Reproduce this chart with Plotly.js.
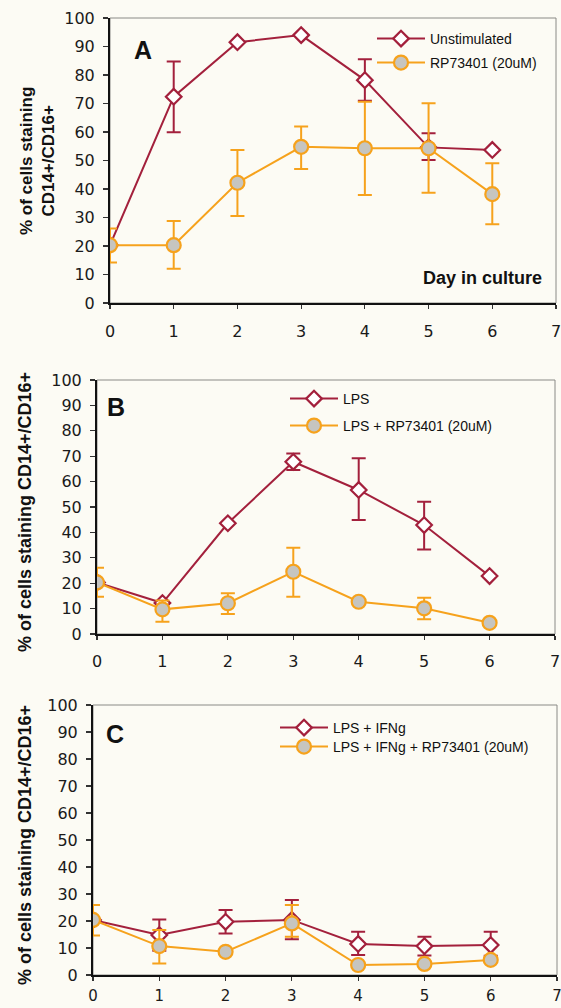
<!DOCTYPE html>
<html><head><meta charset="utf-8">
<script src="https://cdn.plot.ly/plotly-3.0.1.min.js"></script>
<style>html,body{margin:0;padding:0;background:#fcfbf4}</style>
</head><body><div id="chart" style="width:561px;height:1008px"></div>
<script>
// ---------- data ----------
var days = [0, 1, 2, 3, 4, 5, 6];
var xTicks = [0, 1, 2, 3, 4, 5, 6, 7];
var yTicks = [0, 10, 20, 30, 40, 50, 60, 70, 80, 90, 100];

// Panel A
var aUnstim      = [20.3, 72.4, 91.5, 94.0, 78.2, 54.6, 53.7];
var aUnstimPlus  = [0, 12.3, 0, 0, 7.3, 5.0, 0];
var aUnstimMinus = [0, 12.5, 0, 0, 7.2, 4.4, 0];
var aRp          = [20.3, 20.3, 42.2, 54.8, 54.3, 54.3, 38.2];
var aRpPlus      = [5.8, 8.5, 11.5, 7.1, 16.3, 15.8, 10.8];
var aRpMinus     = [6.1, 8.3, 11.7, 7.8, 16.4, 15.6, 10.6];

// Panel B
var bLps         = [20.3, 12.2, 43.6, 67.8, 56.7, 42.9, 22.8];
var bLpsPlus     = [0, 0, 0, 3.3, 12.5, 9.2, 0];
var bLpsMinus    = [0, 0, 0, 3.2, 11.8, 9.6, 0];
var bRp          = [20.3, 9.7, 12.1, 24.5, 12.7, 10.1, 4.4];
var bRpPlus      = [5.8, 3.5, 3.9, 9.5, 0, 4.2, 0];
var bRpMinus     = [5.6, 4.9, 4.2, 9.8, 0, 4.3, 0];

// Panel C
var cIfn         = [20.4, 14.8, 19.7, 20.4, 11.5, 10.7, 11.1];
var cIfnPlus     = [0, 5.8, 4.4, 7.4, 4.5, 3.5, 4.9];
var cIfnMinus    = [0, 5.8, 4.3, 7.2, 4.1, 3.5, 4.0];
var cRp          = [20.4, 10.7, 8.6, 19.1, 3.7, 4.1, 5.6];
var cRpPlus      = [5.5, 6.0, 0, 6.8, 0, 0, 0];
var cRpMinus     = [5.8, 6.4, 0, 4.9, 0, 0, 0];

var seriesNames = ['Unstimulated', 'RP73401 (20uM)', 'LPS', 'LPS + RP73401 (20uM)',
                   'LPS + IFNg', 'LPS + IFNg + RP73401 (20uM)'];

// ---------- styling ----------
var RED = '#a3203c', ORANGE = '#f6a21c', GREY = '#c6c5c0', BG = '#fcfbf4';
var W = 561, H = 1008;
function px(x) { return x / W; }
function py(y) { return 1 - y / H; }

function redTrace(name, y, plus, minus, xa, ya, lg) {
  return {x: days, y: y, name: name, type: 'scatter', mode: 'lines+markers',
    xaxis: xa, yaxis: ya, legend: lg,
    line: {color: RED, width: 2},
    marker: {symbol: 'diamond', size: 12, color: '#ffffff', line: {color: RED, width: 2.2}},
    error_y: {type: 'data', symmetric: false, array: plus, arrayminus: minus,
              color: RED, thickness: 2, width: 7}};
}
function orangeTrace(name, y, plus, minus, xa, ya, lg) {
  return {x: days, y: y, name: name, type: 'scatter', mode: 'lines+markers',
    xaxis: xa, yaxis: ya, legend: lg,
    line: {color: ORANGE, width: 2},
    marker: {symbol: 'circle', size: 14, color: GREY, line: {color: ORANGE, width: 2.2}},
    error_y: {type: 'data', symmetric: false, array: plus, arrayminus: minus,
              color: ORANGE, thickness: 2, width: 7}};
}

var data = [
  redTrace(seriesNames[0], aUnstim, aUnstimPlus, aUnstimMinus, 'x', 'y', 'legend'),
  orangeTrace(seriesNames[1], aRp, aRpPlus, aRpMinus, 'x', 'y', 'legend2'),
  redTrace(seriesNames[2], bLps, bLpsPlus, bLpsMinus, 'x2', 'y2', 'legend3'),
  orangeTrace(seriesNames[3], bRp, bRpPlus, bRpMinus, 'x2', 'y2', 'legend4'),
  redTrace(seriesNames[4], cIfn, cIfnPlus, cIfnMinus, 'x3', 'y3', 'legend5'),
  orangeTrace(seriesNames[5], cRp, cRpPlus, cRpMinus, 'x3', 'y3', 'legend6')
];

var tickFont = {family: 'DejaVu Sans', size: 16, color: '#1a1a1a'};
function xAxis(dom, anchor, standoff, size) {
  return {domain: dom, anchor: anchor, range: [0, 7], tickvals: xTicks, ticktext: xTicks.map(String),
    showgrid: false, zeroline: false, showline: true, linecolor: '#111', linewidth: 2,
    ticks: 'outside', ticklen: 4, tickwidth: 1.2, tickcolor: '#333',
    ticklabelstandoff: standoff, ticklabeloverflow: 'allow',
    tickfont: {family: tickFont.family, size: size || tickFont.size, color: tickFont.color}, fixedrange: true};
}
function yAxis(dom, anchor) {
  return {domain: dom, anchor: anchor, range: [0, 100], tickvals: yTicks, ticktext: yTicks.map(String),
    showgrid: false, zeroline: false, showline: true, linecolor: '#111', linewidth: 2,
    ticks: 'outside', ticklen: 5, tickwidth: 1.2, tickcolor: '#333',
    ticklabelstandoff: 5, ticklabeloverflow: 'allow', tickfont: tickFont, fixedrange: true};
}

var legFont = {family: 'Liberation Sans', size: 14, color: '#111'};
function leg(x, y) {
  return {x: px(x), y: py(y), xanchor: 'left', yanchor: 'middle', bgcolor: 'rgba(0,0,0,0)',
    borderwidth: 0, font: legFont, itemsizing: 'trace', itemwidth: 48, tracegroupgap: 0};
}

var titleFont = {family: 'Liberation Sans', size: 17, color: '#111', weight: 'bold'};
function ann(text, x, y, font, angle) {
  return {text: text, x: px(x), y: py(y), xref: 'paper', yref: 'paper', showarrow: false,
    xanchor: 'center', yanchor: 'middle', font: font, textangle: angle || 0};
}
var letterFont = {family: 'Liberation Sans', size: 25, color: '#111', weight: 'bold'};
var sideFont = {family: 'Liberation Sans', size: 18, color: '#111', weight: 'bold'};

var annotations = [
  ann('% of cells staining<br>CD14+/CD16+', 37, 161, titleFont, -90),
  ann('% of cells staining CD14+/CD16+', 25, 512, sideFont, -90),
  ann('% of cells staining CD14+/CD16+', 25, 845, sideFont, -90),
  ann('Day in culture', 482, 278, sideFont),
  ann('A', 143, 50, letterFont),
  ann('B', 116, 407, letterFont),
  ann('C', 115, 734, letterFont)
];

function frame(xr, yr) {
  return {type: 'rect', xref: xr + ' domain', yref: yr + ' domain', x0: 0, x1: 1, y0: 0, y1: 1,
    line: {color: '#8a8a86', width: 1}, layer: 'below'};
}

var layout = {
  width: W, height: H, margin: {l: 0, r: 0, t: 0, b: 0},
  paper_bgcolor: BG, plot_bgcolor: BG, showlegend: true,
  font: {family: 'Liberation Sans', color: '#111'},
  xaxis:  xAxis([px(110), px(556)], 'y', 9),
  yaxis:  yAxis([py(303), py(18)], 'x'),
  xaxis2: xAxis([px(97), px(555)], 'y2', 8),
  yaxis2: yAxis([py(634), py(380)], 'x2'),
  xaxis3: xAxis([px(93), px(557)], 'y3', 2, 15),
  yaxis3: yAxis([py(975), py(705)], 'x3'),
  legend:  leg(372, 39),
  legend2: leg(372, 63),
  legend3: leg(285, 399),
  legend4: leg(285, 426),
  legend5: leg(275, 728),
  legend6: leg(275, 747),
  annotations: annotations,
  shapes: [frame('x', 'y'), frame('x2', 'y2'), frame('x3', 'y3')]
};

Plotly.newPlot('chart', data, layout, {staticPlot: true, displayModeBar: false});
</script></body></html>
